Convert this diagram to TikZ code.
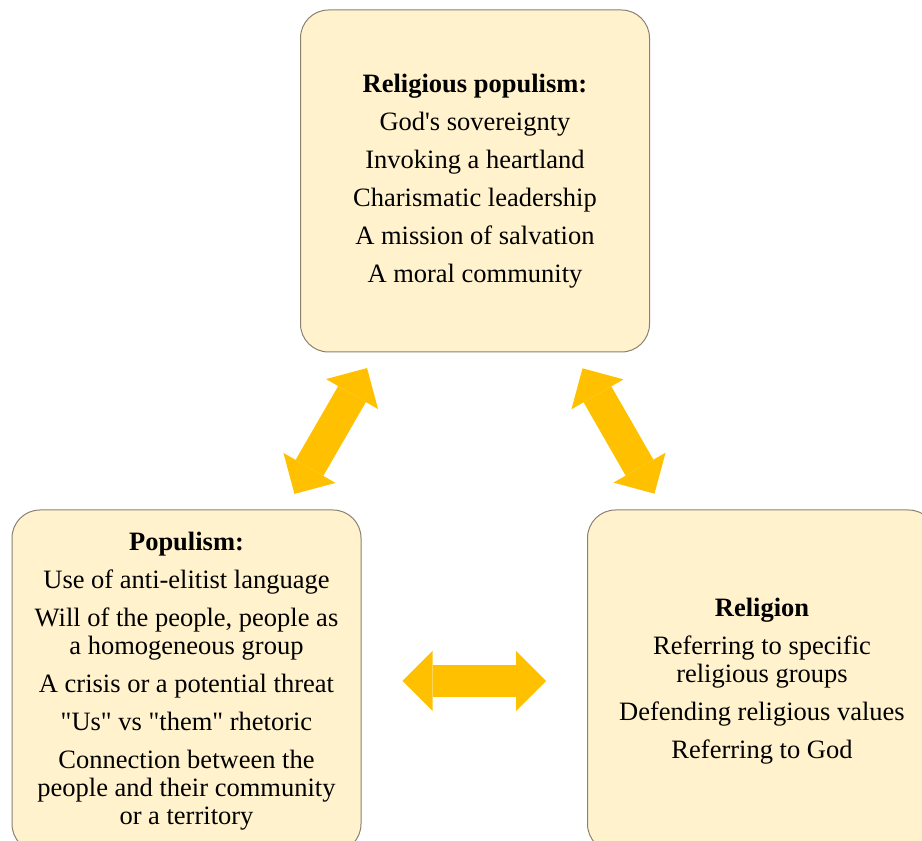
\documentclass[tikz,border=0pt]{standalone}
\usepackage{fontspec}
\newfontfamily\boxfont{Liberation Serif}
\usetikzlibrary{arrows.meta, positioning}

\definecolor{boxfill}{HTML}{FFF2CC}
\definecolor{boxline}{HTML}{8A8172}
\definecolor{arrowgold}{HTML}{FFC000}

\begin{document}
\begin{tikzpicture}[
    x=1pt, y=1pt,
    >={Triangle[length=30pt, width=60pt, line width=0pt]},
    box/.style={draw=boxline, line width=1pt, fill=boxfill, rounded corners=28pt,
        minimum width=349pt, minimum height=342pt, inner sep=0pt, align=center,
        font=\boxfont\fontsize{26.5}{28}\selectfont},
    link/.style={<->, draw=arrowgold, line width=32pt,
        shorten <=216pt, shorten >=216pt}
]

    % === Canvas ===
    \useasboundingbox (0,0) rectangle (922,841);
    \clip (0,0) rectangle (922,841);

    % === Boxes ===
    \node[box] (relpop) at (475,660) {\textbf{Religious populism:}\\[10pt]
        God's sovereignty\\[10pt]
        Invoking a heartland\\[10pt]
        Charismatic leadership\\[10pt]
        A mission of salvation\\[10pt]
        A moral community};

    \node[box] (pop) at (186.5,160) {\textbf{Populism:}\\[10pt]
        Use of anti-elitist language\\[10pt]
        Will of the people, people as\\a homogeneous group\\[10pt]
        A crisis or a potential threat\\[10pt]
        "Us" vs "them" rhetoric\\[10pt]
        Connection between the\\people and their community\\or a territory};

    \node[box] (rel) at (762,160) {\textbf{Religion}\\[10pt]
        Referring to specific\\religious groups\\[10pt]
        Defending religious values\\[10pt]
        Referring to God};

    % === Double arrows (between box centres) ===
    \draw[link] (pop.center) -- (relpop.center);
    \draw[link] (relpop.center) -- (rel.center);
    \draw[link] (pop.center) -- (rel.center);

\end{tikzpicture}
\end{document}
